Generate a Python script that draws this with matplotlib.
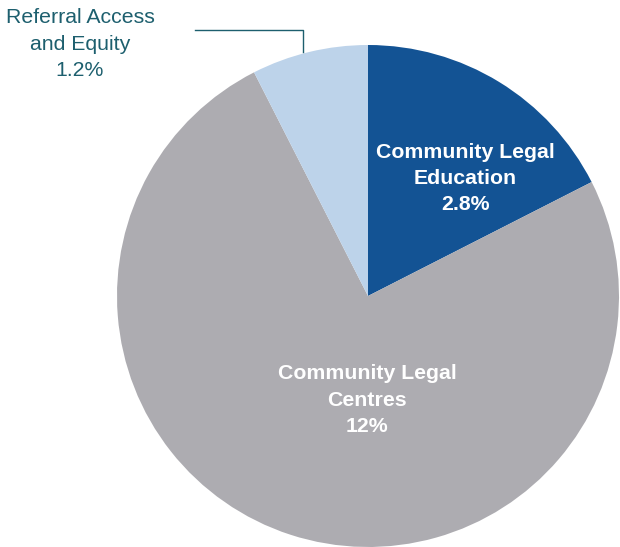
import matplotlib
matplotlib.use("Agg")
import matplotlib.pyplot as plt

# Funding shares by program area
categories = ["Community Legal\nEducation", "Community Legal\nCentres", "Referral Access\nand Equity"]
values = [2.8, 12, 1.2]
value_labels = ["2.8%", "12%", "1.2%"]
colors = ["#135394", "#ADACB1", "#BDD3EA"]

W, H = 620, 547
fig = plt.figure(figsize=(W / 100, H / 100), dpi=100)
ax = fig.add_axes([0, 0, 1, 1])

cx, cy, r = 368, H - 296, 251
ax.pie(values, colors=colors, startangle=90, counterclock=False,
       center=(cx, cy), radius=r, frame=True,
       wedgeprops=dict(linewidth=0))
ax.set_xlim(0, W)
ax.set_ylim(0, H)
ax.set_aspect("equal")
ax.axis("off")

font = "Liberation Sans"
fs = 15.3
ls = 1.48
# Inside labels
ax.text(465, H - 178.5, f"{categories[0]}\n{value_labels[0]}", ha="center", va="center",
        color="white", fontsize=fs, fontweight="bold", family=font, linespacing=ls)
ax.text(367, H - 400, f"{categories[1]}\n{value_labels[1]}", ha="center", va="center",
        color="white", fontsize=fs, fontweight="bold", family=font, linespacing=ls)

# Outside label with leader line
teal = "#1D5F6E"
ax.text(80, H - 44, f"{categories[2]}\n{value_labels[2]}", ha="center", va="center",
        color=teal, fontsize=fs, family=font, linespacing=ls)
ax.plot([195, 303, 303], [H - 30, H - 30, H - 52], color=teal, linewidth=1)

fig.savefig("out.png", dpi=100)
